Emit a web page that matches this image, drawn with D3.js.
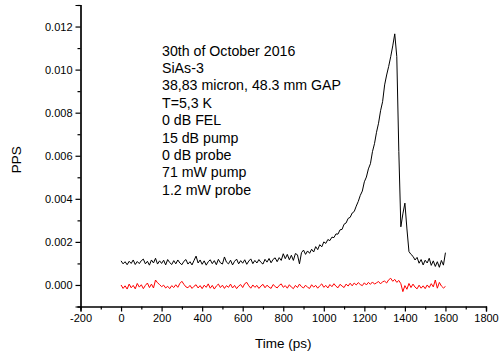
<!DOCTYPE html>
<html>
<head>
<meta charset="utf-8">
<script src="https://cdn.jsdelivr.net/npm/d3@7"></script>
<style>
  html, body { margin: 0; padding: 0; background: #fff; }
  svg { display: block; font-family: "Liberation Sans", Arial, sans-serif; }
</style>
</head>
<body>
<svg id="chart" width="499" height="361"></svg>
<script>
// Delay axis (ps): one sample every 10 ps from 0 to 1600 ps
const timeStart = 0, timeEnd = 1600, timeStep = 10;
const times = d3.range(timeStart, timeEnd + timeStep / 2, timeStep);

// Pump-probe signal (PPS), black trace
const ppsSignal = [
  0.00112, 0.00098, 0.00108, 0.00094, 0.00110, 0.00100, 0.00116, 0.00095, 0.00109, 0.00099, 0.00113,
  0.00120, 0.00098, 0.00110, 0.00092, 0.00116, 0.00102, 0.00124, 0.00097, 0.00112, 0.00100,
  0.00115, 0.00093, 0.00118, 0.00104, 0.00095, 0.00113, 0.00098, 0.00116, 0.00102, 0.00094,
  0.00110, 0.00118, 0.00097, 0.00108, 0.00093, 0.00114, 0.00134, 0.00102, 0.00116, 0.00096,
  0.00112, 0.00092, 0.00108, 0.00117, 0.00099, 0.00113, 0.00094, 0.00119, 0.00103, 0.00097,
  0.00130, 0.00106, 0.00098, 0.00115, 0.00093, 0.00110, 0.00120, 0.00098, 0.00113, 0.00101,
  0.00117, 0.00096, 0.00111, 0.00121, 0.00099, 0.00114, 0.00102, 0.00118, 0.00105, 0.00097,
  0.00119, 0.00106, 0.00123, 0.00103, 0.00119, 0.00126, 0.00108, 0.00127, 0.00114, 0.00145,
  0.00122, 0.00142, 0.00117, 0.00138, 0.00114, 0.00146, 0.00140, 0.00098, 0.00150, 0.00162,
  0.00142, 0.00158, 0.00147, 0.00166, 0.00153, 0.00178, 0.00164, 0.00187, 0.00177, 0.00200,
  0.00193, 0.00211, 0.00206, 0.00222, 0.00220, 0.00237, 0.00236, 0.00256, 0.00258, 0.00282,
  0.00288, 0.00309, 0.00314, 0.00334, 0.00341, 0.00366, 0.00388, 0.00416, 0.00436, 0.00479,
  0.00501, 0.00539, 0.00563, 0.00619, 0.00656, 0.00709, 0.00751, 0.00809, 0.00851, 0.00929,
  0.00975, 0.01015, 0.01060, 0.01110, 0.01166, 0.01060, 0.00620, 0.00270, 0.00330, 0.00380,
  0.00260, 0.00155, 0.00142, 0.00133, 0.00116, 0.00128, 0.00101, 0.00118, 0.00093, 0.00115,
  0.00102, 0.00124, 0.00091, 0.00112, 0.00086, 0.00108, 0.00082, 0.00114, 0.00092, 0.00150
];

// Reference trace, red
const ppsReference = [
  0.00000, -0.00016, -0.00004, -0.00019, 0.00004, -0.00013, -0.00002, -0.00018, 0.00007, -0.00010, 0.00001,
  -0.00017, -0.00002, 0.00009, -0.00012, 0.00004, -0.00014, 0.00023, 0.00010, 0.00002, -0.00008,
  -0.00001, -0.00014, -0.00006, -0.00017, -0.00003, -0.00012, 0.00001, -0.00011, 0.00007, 0.00017,
  0.00003, -0.00009, -0.00013, -0.00002, -0.00016, -0.00006, 0.00001, -0.00014, -0.00003, -0.00017,
  -0.00001, -0.00011, 0.00005, -0.00015, -0.00002, -0.00019, -0.00005, 0.00004, -0.00012, -0.00001,
  -0.00016, -0.00003, -0.00011, 0.00004, -0.00014, -0.00002, -0.00017, -0.00005, 0.00002, -0.00012,
  0.00006, 0.00012, -0.00004, -0.00015, 0.00000, -0.00011, -0.00002, -0.00016, -0.00005, 0.00003,
  -0.00013, -0.00001, -0.00010, -0.00016, 0.00002, -0.00007, -0.00014, -0.00002, 0.00005, -0.00011,
  -0.00003, -0.00015, 0.00001, -0.00010, -0.00017, -0.00002, -0.00012, 0.00004, -0.00008, -0.00014,
  -0.00001, -0.00011, -0.00016, 0.00001, -0.00010, -0.00002, -0.00015, -0.00004, 0.00005, -0.00011,
  -0.00002, -0.00014, 0.00002, -0.00008, 0.00006, -0.00006, -0.00013, 0.00003, -0.00005, -0.00012,
  0.00004, -0.00005, 0.00008, -0.00004, 0.00009, 0.00000, 0.00011, 0.00002, -0.00003, 0.00010,
  0.00000, 0.00012, 0.00003, 0.00014, 0.00004, 0.00010, 0.00016, 0.00005, 0.00015, 0.00018,
  0.00009, 0.00024, 0.00031, 0.00017, 0.00026, 0.00012, 0.00021, 0.00006, -0.00031, -0.00003,
  -0.00020, 0.00007, -0.00012, 0.00004, -0.00010, -0.00018, -0.00001, -0.00015, -0.00004, -0.00017,
  0.00000, -0.00012, 0.00006, -0.00009, 0.00023, -0.00015, 0.00012, -0.00005, -0.00014, -0.00007
];

// Axis ticks
const xMajorTicks = [-200, 0, 200, 400, 600, 800, 1000, 1200, 1400, 1600, 1800];
const xMinorTicks = [-100, 100, 300, 500, 700, 900, 1100, 1300, 1500, 1700];
const yMajorTicks = [0.000, 0.002, 0.004, 0.006, 0.008, 0.010, 0.012];
const yMinorTicks = [-0.001, 0.001, 0.003, 0.005, 0.007, 0.009, 0.011, 0.013];

// Measurement notes
const notes = [
  "30th of October 2016",
  "SiAs-3",
  "38,83 micron, 48.3 mm GAP",
  "T=5,3 K",
  "0 dB FEL",
  "15 dB pump",
  "0 dB probe",
  "71 mW pump",
  "1.2 mW probe"
];

const svg = d3.select("#chart");

const x = d3.scaleLinear().domain([-200, 1800]).range([80.5, 486]);
const y = d3.scaleLinear().domain([-0.001, 0.013]).range([306.5, 5]);

const axisY0 = 306.5, axisX0 = 80.5;

// Traces
const line = d3.line()
  .x((d, i) => x(times[i]))
  .y(d => y(d));

svg.append("path")
  .datum(ppsReference)
  .attr("fill", "none")
  .attr("stroke", "#ff0000")
  .attr("stroke-width", 1)
  .attr("d", line);

svg.append("path")
  .datum(ppsSignal)
  .attr("fill", "none")
  .attr("stroke", "#000")
  .attr("stroke-width", 1)
  .attr("d", line);

// Plain hyphen-minus for negative tick labels
const intFmt = d => String(d);

// Bottom axis
const gx = svg.append("g").attr("transform", `translate(0,${axisY0})`);
gx.call(d3.axisBottom(x).tickValues(xMajorTicks).tickSize(5).tickPadding(3).tickFormat(intFmt));
gx.append("g").call(d3.axisBottom(x).tickValues(xMinorTicks).tickSize(3).tickFormat(""));

// Left axis
const gy = svg.append("g").attr("transform", `translate(${axisX0},0)`);
gy.call(d3.axisLeft(y).tickValues(yMajorTicks).tickSize(5).tickPadding(3).tickFormat(d => d.toFixed(3)));
gy.append("g").call(d3.axisLeft(y).tickValues(yMinorTicks).tickSize(3).tickFormat(""));

svg.selectAll(".domain").attr("stroke", "#000").attr("stroke-width", 1.2);
svg.selectAll(".tick line").attr("stroke", "#000").attr("stroke-width", 1.2);
svg.selectAll(".tick text")
  .attr("fill", "#000")
  .style("font-family", "'Liberation Sans', Arial, sans-serif")
  .style("font-size", "11px");

// Axis titles
svg.append("text")
  .attr("x", (x.range()[0] + x.range()[1]) / 2)
  .attr("y", 348)
  .attr("text-anchor", "middle")
  .style("font-size", "13.5px")
  .text("Time (ps)");

svg.append("text")
  .attr("transform", `translate(21,${(y.range()[0] + y.range()[1]) / 2 + 4}) rotate(-90)`)
  .attr("text-anchor", "middle")
  .style("font-size", "13.5px")
  .text("PPS");

// Notes block
svg.append("g")
  .selectAll("text")
  .data(notes)
  .join("text")
  .attr("x", 162)
  .attr("y", (d, i) => 55.5 + i * 17.4)
  .style("font-size", "14.2px")
  .text(d => d);
</script>
</body>
</html>
